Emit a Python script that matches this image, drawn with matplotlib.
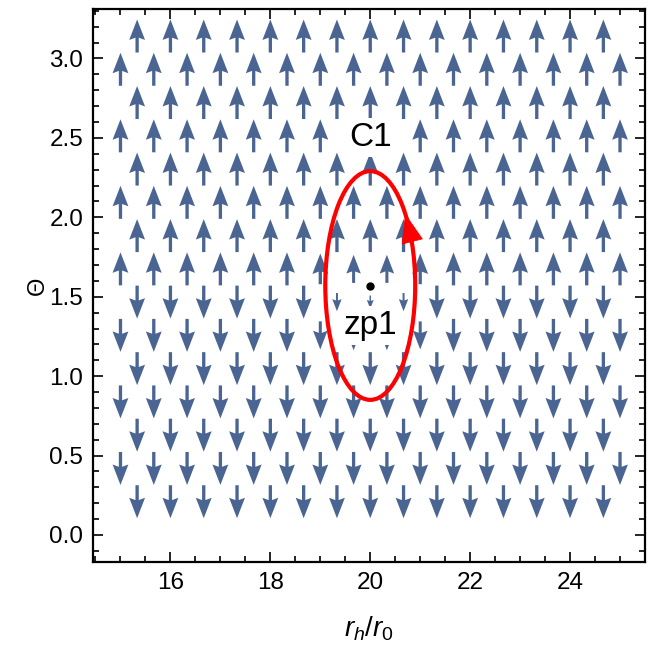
import numpy as np
import matplotlib
matplotlib.use("Agg")
import matplotlib.pyplot as plt
from matplotlib.patches import Ellipse, FancyArrowPatch
from matplotlib.ticker import MultipleLocator

plt.rcParams["font.family"] = ["Liberation Sans", "DejaVu Sans"]
plt.rcParams["mathtext.fontset"] = "custom"
plt.rcParams["mathtext.rm"] = "Liberation Sans"
plt.rcParams["mathtext.it"] = "Liberation Sans:italic"

# sampling grid of the normalised field (staggered rows)
x_full = np.linspace(15, 25, 16)
x_half = (x_full[:-1] + x_full[1:]) / 2
theta_rows = np.pi * np.arange(1, 16) / 15

# sign of the theta component on each row, bottom to top
row_dir = [-1, -1, -1, -1, -1, -1, -1, 1, 1, 1, 1, 1, 1, 1, 1]

# shorter arrows around the zero point: (row index, x, relative length)
short_arrows = [
    (5, 19.0, 0.85), (5, 19.67, 0.9), (5, 20.33, 0.9), (5, 21.0, 0.85),
    (6, 19.33, 0.55), (6, 20.0, 0.4), (6, 20.67, 0.55),
    (7, 19.0, 0.93), (7, 19.67, 0.85), (7, 20.33, 0.85), (7, 21.0, 0.93),
]

# zero point and the contour around it
zp1 = (20.0, np.pi / 2)
contour_a = 0.9
contour_b = 0.72
contour_arrow_t = 0.68  # parameter (rad) of the direction arrow

ARROW_PX = 33
ARROW_COLOR = "#4A6591"

X, Y, V = [], [], []
for i, th in enumerate(theta_rows):
    xs = x_half if i % 2 == 0 else x_full
    for x in xs:
        mag = 1.0
        for r, sx, m in short_arrows:
            if r == i and abs(sx - x) < 0.05:
                mag = m
        X.append(x)
        Y.append(th)
        V.append(row_dir[i] * mag * ARROW_PX)
X = np.array(X)
Y = np.array(Y)
V = np.array(V)

fig = plt.figure(figsize=(6.54, 6.46), dpi=100)
ax = fig.add_axes([93 / 654, 1 - 562 / 646, (645 - 93) / 654, (562 - 9) / 646])

ax.quiver(X, Y, np.zeros_like(V), V, angles="uv", scale_units="dots", scale=1,
          units="dots", width=3.3, headwidth=4.8, headlength=6.2,
          headaxislength=5.5, minshaft=1.5, pivot="middle",
          color=ARROW_COLOR, zorder=1)

# contour C1
ell = Ellipse(zp1, 2 * contour_a, 2 * contour_b, fill=False,
              edgecolor="#FF0000", lw=3, zorder=4)
ax.add_patch(ell)

def on_contour(t):
    return (zp1[0] + contour_a * np.cos(t), zp1[1] + contour_b * np.sin(t))

arr = FancyArrowPatch(on_contour(contour_arrow_t - 0.22), on_contour(contour_arrow_t),
                      arrowstyle="-|>,head_length=20,head_width=7.5",
                      color="#FF0000", lw=0.5, shrinkA=0, shrinkB=0, zorder=4)
ax.add_patch(arr)

ax.plot(zp1[0], zp1[1], "o", ms=5, color="black", zorder=5)

box = dict(facecolor="white", edgecolor="none", pad=3)
ax.text(20, 2.5, "C1", ha="center", va="center", fontsize=24, bbox=box, zorder=3)
ax.text(20, 1.32, "zp1", ha="center", va="center", fontsize=24, bbox=box, zorder=3)

ax.set_xlim(14.45, 25.5)
ax.set_ylim(-0.17, np.pi + 0.17)
ax.xaxis.set_major_locator(MultipleLocator(2))
ax.xaxis.set_minor_locator(MultipleLocator(0.5))
ax.yaxis.set_major_locator(MultipleLocator(0.5))
ax.yaxis.set_minor_locator(MultipleLocator(0.1))
ax.yaxis.set_major_formatter(matplotlib.ticker.FormatStrFormatter("%.1f"))
ax.tick_params(which="both", direction="in", top=True, right=True,
               width=1.2, labelsize=17.5, colors="black")
ax.tick_params(which="major", length=7, pad=7)
ax.tick_params(which="minor", length=4)
for s in ax.spines.values():
    s.set_linewidth(1.6)

ax.set_xlabel(r"$r_h/r_0$", fontsize=20)
ax.set_ylabel("Θ", fontsize=17, rotation=90)
ax.xaxis.set_label_coords(0.5, -0.095)
ax.yaxis.set_label_coords(-0.08, 0.5)

fig.savefig("out.png", dpi=100)
